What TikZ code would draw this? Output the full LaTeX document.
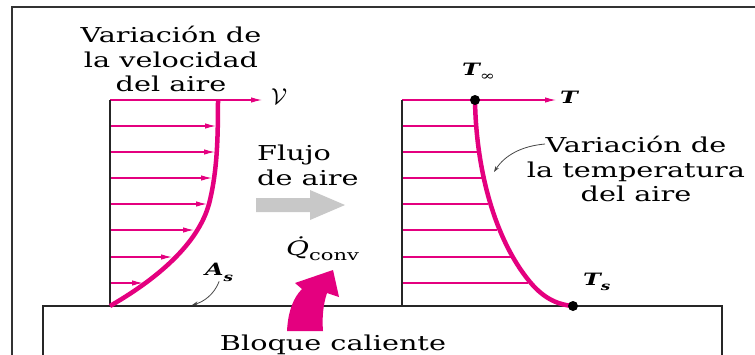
\documentclass[tikz,border=0pt]{standalone}
\usepackage{graphicx}
\usepackage{fontspec}
\setmainfont{DejaVu Serif}[FakeStretch=1.4]
\usetikzlibrary{arrows.meta}
\definecolor{mag}{RGB}{228,0,127}
\definecolor{flow}{RGB}{200,200,200}
\definecolor{lead}{RGB}{70,70,70}
\begin{document}
\begin{tikzpicture}[x=1pt,y=-1pt,
  txt/.style={inner sep=0pt, font=\fontsize{20.5}{24.5}\selectfont},
  sym/.style={inner sep=0pt, font=\fontsize{17}{20}\selectfont\bfseries\itshape},
  axisline/.style={line width=1.4pt, black!85},
  frameline/.style={line width=1.6pt, black!80},
  profile/.style={line width=4.5pt, mag},
  vel/.style={line width=1.1pt, mag, -{Latex[length=11pt,width=5.5pt]}},
  tmp/.style={line width=1.1pt, mag},
  leader/.style={line width=0.8pt, lead, -{Stealth[length=6pt,width=4pt]}}]
\useasboundingbox (0,0) rectangle (755,354);
\fill[white] (0,0) rectangle (755,354);
\clip (0,0) rectangle (755,354);
% outer frame
\draw[frameline] (12,370) -- (12,7) -- (770,7);
% block
\draw[axisline] (43,370) -- (43,306) -- (722,306) -- (722,370);
% ---------- velocity profile ----------
\coordinate (vb) at (110,306);
\coordinate (vt) at (110,100);
\coordinate (vtip) at (262,100);
\draw[vel] (vt) -- (vtip);
\foreach \y/\x [count=\i] in {126/216,152/215,178/212,204/207,230/194,257/172,283/143} {
  \coordinate (vl\i) at (110,\y);
  \coordinate (vr\i) at (\x,\y);
  \draw[vel] (vl\i) -- (vr\i);
}
\draw[axisline] (vb) -- (vt);
\draw[profile] (vb) .. controls (162,276) and (201,240) .. (210,200) .. controls (217,170) and (218,140) .. (218,100);
\node[anchor=base west, inner sep=0pt] (V) at (271,104) {\scalebox{2.3}{$\mathcal{V}$}};
% ---------- temperature profile ----------
\coordinate (tb) at (402,306);
\coordinate (tt) at (402,100);
\coordinate (ttip) at (556,100);
\draw[vel] (tt) -- (ttip);
\foreach \y/\x [count=\i] in {126/474,152/477,178/482,204/488,230/497,257/511,283/528} {
  \coordinate (tl\i) at (402,\y);
  \coordinate (tr\i) at (\x,\y);
  \draw[tmp] (tl\i) -- (tr\i);
}
\draw[axisline] (tb) -- (tt);
\coordinate (Tinf) at (475,100);
\coordinate (Ts) at (573,306);
\draw[profile] (Tinf) .. controls (476,170) and (495,240) .. (530,282) .. controls (545,300) and (560,305) .. (Ts);
\fill (Tinf) circle (5pt);
\fill (Ts) circle (5pt);
\node[sym, anchor=base west] (TinfL) at (462,75) {T\raisebox{-5pt}{\fontsize{13}{13}\selectfont\mdseries\upshape ∞}};
\node[sym, anchor=base west] (TL) at (560,103) {T};
\node[sym, anchor=base west] (TsL) at (583,285) {T\raisebox{-5pt}{\fontsize{12}{12}\selectfont s}};
% ---------- texts ----------
\node[txt, align=center, anchor=north] (vtitle) at (171,26) {Variación de\\la velocidad\\del aire};
\node[txt, align=center, anchor=north] (ttitle) at (636,136) {Variación de\\la temperatura\\del aire};
\node[txt, align=left, anchor=north west] (flujo) at (257,145) {Flujo\\de aire};
\node[txt, anchor=base] (bloque) at (333,350) {Bloque caliente};
\node[sym, anchor=base west] (As) at (205,275) {A\raisebox{-6pt}{\fontsize{12}{12}\selectfont s}};
\node[inner sep=0pt, anchor=base west, font=\fontsize{20}{22}\selectfont] (Q) at (286,255) {{\itshape\.{Q}}\raisebox{-5pt}{\fontsize{15}{18}\selectfont conv}};
% flow arrow
\fill[flow] (256,198) -- (310,198) -- (310,190) -- (345,205) -- (310,220) -- (310,212) -- (256,212) -- cycle;
% heat arrow
\fill[mag] (287,331) .. controls (288,312) and (293,298) .. (302,289) -- (295,283) -- (333,270) -- (339,297) -- (327,293) .. controls (323,305) and (322,318) .. (323,331) -- cycle;
% leaders
\coordinate (asEnd) at (192,305);
\draw[leader] (As.south) .. controls (214,295) and (203,302) .. (asEnd);
\coordinate (ltS) at (545,144);
\coordinate (ltE) at (494,172);
\draw[leader] (ltS) .. controls (522,146) and (505,155) .. (ltE);
\end{tikzpicture}
\end{document}
